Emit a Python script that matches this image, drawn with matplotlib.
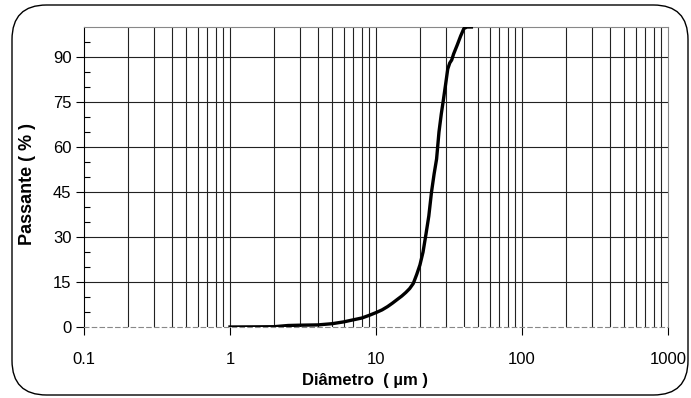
import numpy as np
import matplotlib.pyplot as plt
from matplotlib.patches import FancyBboxPatch
from matplotlib.ticker import FixedLocator, NullFormatter

plt.rcParams['font.family'] = ['Liberation Sans', 'DejaVu Sans']

# particle size distribution (cumulative passing)
diametro = [1, 1.5, 2, 2.5, 3, 4, 5, 6, 7, 8, 9, 10, 11, 12, 13, 14, 15, 16, 17, 18,
            19, 20, 21, 22, 23, 24, 25, 26, 27, 28, 29, 30, 31, 32, 33, 34, 36, 38, 40, 42, 45]
passante = [0, 0.05, 0.1, 0.5, 0.6, 0.7, 1.1, 1.7, 2.4, 3.0, 3.9, 4.8, 5.7, 6.8, 8.0, 9.2,
            10.3, 11.5, 12.8, 14.5, 17.5, 20.7, 25, 31, 37, 45, 51, 56, 65, 71, 76, 81,
            86, 88, 89, 91, 94, 97, 99.5, 100, 100]

y_ticks = [0, 15, 30, 45, 60, 75, 90]
x_ticks = [0.1, 1, 10, 100, 1000]
x_labels = ['0.1', '1', '10', '100', '1000']

fig = plt.figure(figsize=(6.91, 3.98), dpi=100)

# rounded chart border
border = FancyBboxPatch((12/691, 3/398), 676/691, 390/398,
                        boxstyle='round,pad=0,rounding_size=0.05',
                        transform=fig.transFigure, fill=False,
                        edgecolor='black', linewidth=1.0, mutation_aspect=691/398)
fig.patches.append(border)

ax = fig.add_axes([84/691, 1 - 327/398, (668 - 84)/691, 300/398])
ax.set_xscale('log')
ax.set_xlim(0.1, 1000)
ax.set_ylim(0, 100)

# grid
minor_x = [m * 10.0**e for e in range(-1, 3) for m in range(2, 10)]
for xv in minor_x + [1, 10, 100]:
    ax.axvline(xv, color='#222222', linewidth=0.8, zorder=1)
for yv in y_ticks[1:]:
    ax.axhline(yv, color='#222222', linewidth=0.8, zorder=1)

ax.plot(diametro, passante, color='black', linewidth=2.4, zorder=5, clip_on=True)

ax.set_xticks(x_ticks)
ax.set_xticklabels(x_labels)
ax.xaxis.set_minor_locator(FixedLocator([]))
ax.xaxis.set_minor_formatter(NullFormatter())
ax.set_yticks(y_ticks)
ax.yaxis.set_minor_locator(FixedLocator([5, 10, 20, 25, 35, 40, 50, 55, 65, 70, 80, 85, 95]))
ax.tick_params(axis='x', which='major', direction='out', length=6, width=0.8,
               labelsize=12, pad=12)
ax.tick_params(axis='y', which='major', direction='out', length=6, width=0.8,
               labelsize=12, pad=3)
ax.tick_params(axis='y', which='minor', direction='in', length=4, width=0.8)

for s in ['top', 'right']:
    ax.spines[s].set_color('#888888')
ax.spines['bottom'].set_color('#888888')
ax.spines['bottom'].set_linestyle((0, (4, 3)))
ax.spines['left'].set_color('black')

ax.set_xlabel('Diâmetro  ( µm )', fontsize=12, fontweight='bold')
ax.set_ylabel('Passante ( % )', fontsize=13, fontweight='bold')
ax.xaxis.set_label_coords(0.481, -46/300, transform=ax.transAxes)
ax.yaxis.set_label_coords(-48/584, 0.477, transform=ax.transAxes)

fig.savefig('out.png', dpi=100)
